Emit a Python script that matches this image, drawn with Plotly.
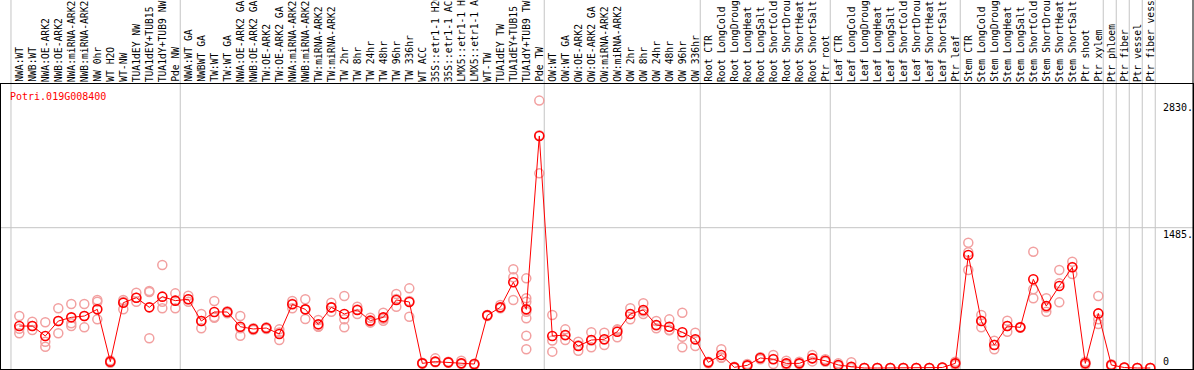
import plotly.graph_objects as go

gene = "Potri.019G008400"

categories = [
    "NWA:WT", "NWB:WT", "NWA:OE-ARK2", "NWB:OE-ARK2", "NWA:miRNA-ARK2", "NWB:miRNA-ARK2",
    "NW 0hr", "WT H2O", "WT-NW", "TUA1dEY NW", "TUA1dEY+TUB15", "TUA1dY+TUB9 NW", "Pde NW",
    "NWA:WT GA", "NWBWT GA", "TW:WT", "TW:WT GA", "NWA:OE-ARK2 GA", "NWB:OE-ARK2 GA",
    "TW:OE-ARK2", "TW:OE-ARK2 GA", "NWA:miRNA-ARK2", "NWB:miRNA-ARK2", "TW:miRNA-ARK2",
    "TW:miRNA-ARK2", "TW 2hr", "TW 8hr", "TW 24hr", "TW 48hr", "TW 96hr", "TW 336hr",
    "WT ACC", "35S::etr1-1 H2O", "35S::etr1-1 ACC", "LMX5::etr1-1 H2O", "LMX5::etr1-1 ACC",
    "WT-TW", "TUA1dEY TW", "TUA1dEY+TUB15 TW", "TUA1dY+TUB9 TW", "Pde TW",
    "OW:WT", "OW:WT GA", "OW:OE-ARK2", "OW:OE-ARK2 GA", "OW:miRNA-ARK2", "OW:miRNA-ARK2 GA",
    "OW 2hr", "OW 8hr", "OW 24hr", "OW 48hr", "OW 96hr", "OW 336hr",
    "Root CTR", "Root LongCold", "Root LongDrought", "Root LongHeat", "Root LongSalt",
    "Root ShortCold", "Root ShortDrought", "Root ShortHeat", "Root ShortSalt", "Ptr root",
    "Leaf CTR", "Leaf LongCold", "Leaf LongDrought", "Leaf LongHeat", "Leaf LongSalt",
    "Leaf ShortCold", "Leaf ShortDrought", "Leaf ShortHeat", "Leaf ShortSalt", "Ptr leaf",
    "Stem CTR", "Stem LongCold", "Stem LongDrought", "Stem LongHeat", "Stem LongSalt",
    "Stem ShortCold", "Stem ShortDrought", "Stem ShortHeat", "Stem ShortSalt", "Ptr shoot",
    "Ptr xylem", "Ptr phloem", "Ptr fiber", "Ptr vessel", "Ptr fiber vessel",
]

group_sizes = [13, 28, 12, 10, 10, 11, 1, 1, 1, 1]

means = [
    444, 444, 339, 497, 536, 550, 621, 67, 691, 744, 642, 755, 713,
    727, 497, 593, 593, 437, 413, 423, 360, 674, 621, 462, 642, 572, 614, 501, 536,
    720, 699, 49, 67, 60, 49, 42, 557, 642, 907, 621, 2456,
    339, 349, 233, 296, 304, 384, 572, 614, 455, 437, 378, 304,
    60, 138, 7, 28, 106, 92, 49, 49, 102, 77,
    32, 14, 0, 0, 0, 0, 0, 0, 5, 49,
    1196, 497, 243, 444, 430, 939, 656, 868, 1066, 49, 578,
    32, 5, 0, 0,
]

replicates = [
    [550, 415, 367], [490, 402, 444], [484, 278, 225], [632, 367, 497], [677, 473, 444],
    [677, 430, 550], [720, 702, 515], [55, 67, 80], [720, 621, 700], [797, 702, 744],
    [815, 804, 314], [1090, 702, 632], [790, 632, 713],
    [765, 702, 727], [572, 420, 497], [709, 532, 540], [600, 580, 593], [550, 342, 420],
    [413, 402, 420], [430, 413, 425], [409, 296, 375], [709, 632, 680], [727, 518, 620],
    [508, 437, 440], [691, 596, 640], [762, 515, 430], [649, 572, 620], [532, 490, 480],
    [585, 501, 520], [783, 649, 730], [843, 543, 710], [55, 45, 50], [102, 67, 60],
    [67, 60, 55], [77, 42, 50], [32, 42, 45], [560, 550, 560], [667, 632, 640],
    [1045, 960, 720], [949, 738, 702, 596, 526, 342, 198], [2830, 2463, 2060],
    [561, 173, 290], [409, 296, 345], [278, 183, 240], [378, 219, 290], [374, 243, 300],
    [409, 325, 400], [632, 515, 570], [685, 572, 600], [497, 420, 450], [515, 402, 400],
    [585, 331, 219], [374, 233, 300],
    [67, 49, 60], [198, 109, 110], [14, 0, 7], [42, 21, 25], [113, 92, 110], [138, 42, 95],
    [77, 32, 45], [67, 42, 45], [138, 102, 70], [92, 67, 75],
    [49, 21, 30], [60, 10, 0], [0, 0, 0], [0, 0, 0], [0, 0, 0], [0, 0, 0], [0, 0, 0],
    [0, 0, 0], [5, 0, 5], [67, 32, 49],
    [1326, 1037, 1225], [561, 430, 500], [289, 198, 245], [501, 384, 444], [430, 425, 435],
    [1231, 833, 738], [738, 596, 640], [1037, 896, 695], [1125, 995, 1070], [67, 32, 49],
    [762, 515, 466],
    [21, 32, 40], [5, 0, 5], [0, 0, 0], [0, 0, 0],
]

tick_values = [0, 1485, 2830]
tick_labels = ["0", "1485.", "2830."]

# ---- layout geometry ----
W, H = 1194, 370
ML, MR, MT, MB = 1, 1, 84, 1
PX_PER_CAT = 13.0
FIRST_PX = 19.3
PX_PER_UNIT = 0.09448
ZERO_PX = 368.0
x_range = [(ML - FIRST_PX) / PX_PER_CAT, (W - MR - FIRST_PX) / PX_PER_CAT]
y_range = [(ZERO_PX - (H - MB)) / PX_PER_UNIT, (ZERO_PX - MT) / PX_PER_UNIT]
plot_h = H - MT - MB

RED = "#ff0000"
PINK = "#f2a0a0"
GRID = "#c4c4c4"
MONO = "DejaVu Sans Mono"

idx = list(range(len(categories)))
rx, ry = [], []
for i, reps in enumerate(replicates):
    for v in reps:
        rx.append(i)
        ry.append(v)

fig = go.Figure()
fig.add_trace(go.Scatter(
    x=rx, y=ry, mode="markers",
    marker=dict(symbol="circle-open", size=9, color=PINK, line=dict(width=1.5, color=PINK)),
    hoverinfo="skip", showlegend=False,
))
fig.add_trace(go.Scatter(
    x=idx, y=means, mode="lines+markers",
    line=dict(color=RED, width=1),
    marker=dict(symbol="circle-open", size=9, color=RED, line=dict(width=1.6, color=RED)),
    showlegend=False,
))

shapes = []
top_paper = 1 + MT / plot_h
sep_positions = [-1 + 0.36]
acc = 0
for g in group_sizes:
    acc += g
    sep_positions.append(acc - 1 + 0.38)
for sx in sep_positions:
    shapes.append(dict(type="line", xref="x", yref="paper", x0=sx, x1=sx, y0=0, y1=top_paper,
                       line=dict(color=GRID, width=1), layer="below"))
shapes.append(dict(type="line", xref="paper", yref="y", x0=0, x1=1, y0=tick_values[1], y1=tick_values[1],
                   line=dict(color=GRID, width=1), layer="below"))
shapes.append(dict(type="line", xref="paper", yref="paper", x0=1, x1=1, y0=0, y1=top_paper,
                   line=dict(color="black", width=1)))

annotations = []
for i, c in enumerate(categories):
    annotations.append(dict(
        x=i, y=1, xref="x", yref="paper", text=c, textangle=-90, showarrow=False,
        xanchor="center", yanchor="bottom", yshift=1, borderpad=0,
        font=dict(family=MONO, size=9.7, color="black"),
    ))
annotations.append(dict(
    x=(9 - ML) / (W - ML - MR), y=(H - MB - 96.7) / plot_h, xref="paper", yref="paper",
    text=gene, showarrow=False, xanchor="left", yanchor="middle", borderpad=0,
    font=dict(family=MONO, size=10, color=RED),
))
tick_x = (1162 - ML) / (W - ML - MR)
for tv, tl in zip(tick_values, tick_labels):
    annotations.append(dict(
        x=tick_x, y=tv, xref="paper", yref="y", text=tl, showarrow=False,
        xanchor="left", yanchor=("bottom" if tv == 0 else "top"), borderpad=0,
        font=dict(family=MONO, size=10, color="black"),
    ))

fig.update_layout(
    width=W, height=H,
    margin=dict(l=ML, r=MR, t=MT, b=MB, pad=0),
    paper_bgcolor="white", plot_bgcolor="white",
    xaxis=dict(range=x_range, showgrid=False, zeroline=False, showticklabels=False, ticks="",
               showline=True, linecolor="black", linewidth=1, mirror=True),
    yaxis=dict(range=y_range, showgrid=False, zeroline=False, showticklabels=False, ticks="",
               showline=True, linecolor="black", linewidth=1, mirror=True),
    shapes=shapes, annotations=annotations,
    font=dict(family=MONO),
)

fig.write_html(
    "out.html",
    config={"displayModeBar": False},
    post_script="document.body.style.margin='0';document.body.style.overflow='hidden';",
)
